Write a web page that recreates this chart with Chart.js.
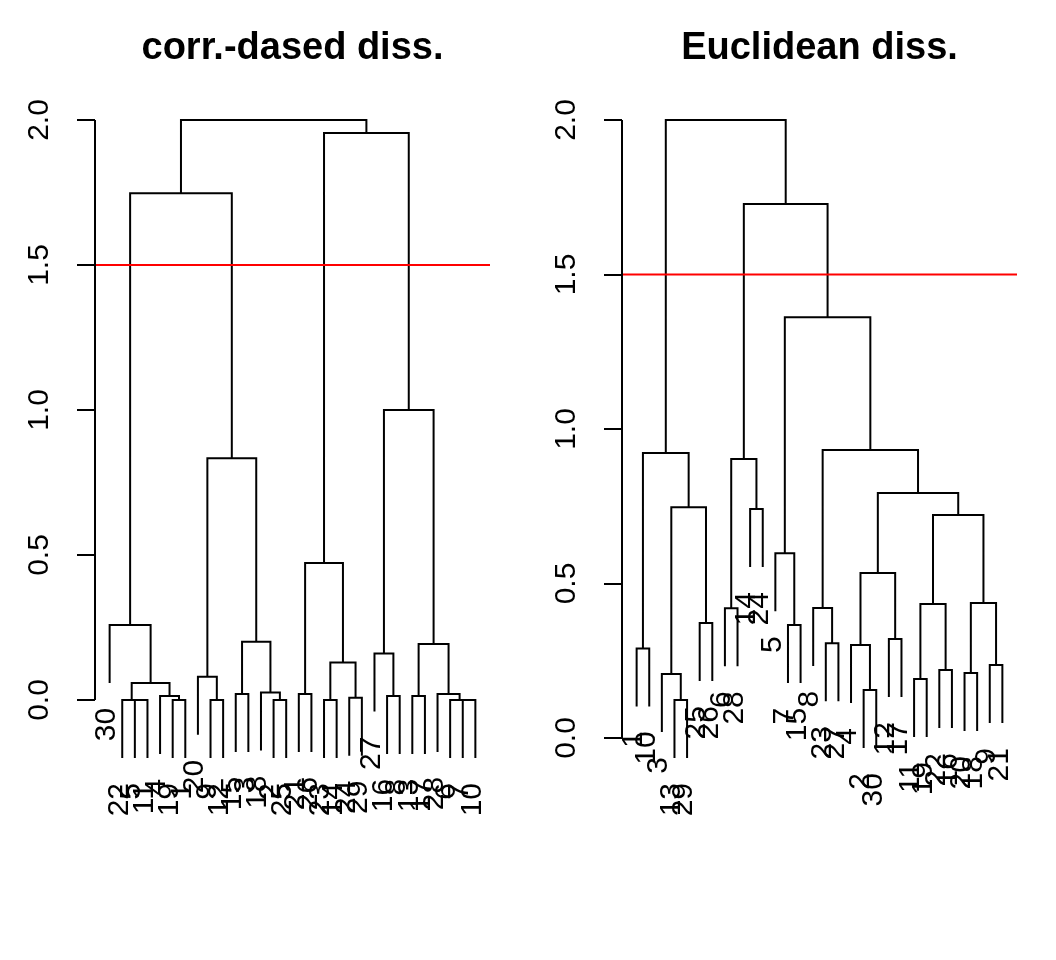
<!DOCTYPE html>
<html><head><meta charset="utf-8">
<script src="https://cdn.jsdelivr.net/npm/chart.js@4"></script>
<style>
html,body{margin:0;padding:0;background:#fff;}
#wrap{display:flex;width:1056px;height:960px;}
.box{position:relative;width:528px;height:960px;}
canvas{display:block;}
</style></head><body>
<div id="wrap"><div class="box"><canvas id="c1" width="528" height="960"></canvas></div><div class="box"><canvas id="c2" width="528" height="960"></canvas></div></div>
<script>
// ---------- data ----------
const leftTitle = "corr.-dased diss.";
const rightTitle = "Euclidean diss.";
const yTicks = [0, 0.5, 1, 1.5, 2];
const cutHeight = 1.5;

// leaf labels in plotted order
const leftLabels = ["30","22","5","11","4","19","1","20","9","12","15","3","18","2","25","21","26","23","14","24","29","27","16","8","13","17","28","6","7","10"];
// merges: negative = leaf position, positive = earlier merge row (1-based)
const leftMerge = [[-3,-4],[-2,1],[-6,-7],[-5,3],[2,4],[-1,5],[-9,-10],[-8,7],[-11,-12],[-14,-15],[-13,10],[9,11],[8,12],[6,13],
  [-16,-17],[-18,-19],[-20,-21],[16,17],[15,18],[-23,-24],[-22,20],[-25,-26],[-29,-30],[-28,23],[-27,24],[22,25],[21,26],[19,27],[14,28]];
const leftHeight = [0,0,0,0.014,0.059,0.259,0,0.08,0.021,0,0.026,0.201,0.834,1.747,
  0.021,0,0.008,0.129,0.472,0.014,0.16,0.014,0,0,0.021,0.193,1.0,1.955,2.0];

const rightLabels = ["1","10","3","13","29","25","26","6","28","14","24","5","7","15","8","23","27","4","2","30","12","17","11","19","22","16","20","18","9","21"];
const rightMerge = [[-1,-2],[-4,-5],[-3,2],[-6,-7],[3,4],[1,5],[-8,-9],[-10,-11],[7,8],[-13,-14],[-12,10],[-16,-17],[-15,12],
  [-19,-20],[-18,14],[-21,-22],[15,16],[-23,-24],[-25,-26],[18,19],[-27,-28],[-29,-30],[21,22],[20,23],[17,24],[13,25],[11,26],[9,27],[6,28]];
const rightHeight = [0.29,0.123,0.207,0.372,0.747,0.922,0.42,0.741,0.903,0.366,0.598,0.307,0.421,
  0.155,0.301,0.32,0.534,0.191,0.22,0.434,0.21,0.236,0.437,0.722,0.793,0.932,1.362,1.728,2.0];

// ---------- helpers ----------
const FONT = '"Liberation Sans", Arial, Helvetica, sans-serif';

function dendroSegments(merge, height) {
  const n = merge.length + 1;
  const hang = 0.1 * (Math.max(...height) - Math.min(...height));
  const nodeX = [], nodeH = [];
  const leafBottom = new Array(n + 1);
  const pts = [];
  merge.forEach((m, k) => {
    const h = height[k];
    const ends = m.map(c => {
      if (c < 0) { leafBottom[-c] = h - hang; return {x: -c, y: h - hang}; }
      return {x: nodeX[c - 1], y: nodeH[c - 1]};
    });
    nodeX[k] = (ends[0].x + ends[1].x) / 2; nodeH[k] = h;
    pts.push({x: ends[0].x, y: ends[0].y}, {x: ends[0].x, y: h}, {x: ends[1].x, y: h},
             {x: ends[1].x, y: ends[1].y}, {x: ends[1].x, y: null});
  });
  return {pts, leafBottom};
}

const dendroPlugin = {
  id: 'dendro',
  afterDraw(chart, args, opts) {
    const {ctx, scales: {x, y}, chartArea} = chart;
    ctx.save();
    ctx.strokeStyle = '#000'; ctx.lineWidth = 2;
    ctx.beginPath();
    ctx.moveTo(chartArea.left, y.getPixelForValue(yTicks[0]));
    ctx.lineTo(chartArea.left, y.getPixelForValue(yTicks[yTicks.length - 1]));
    ctx.stroke();
    ctx.font = '30px ' + FONT; ctx.fillStyle = '#000';
    ctx.textAlign = 'right'; ctx.textBaseline = 'middle';
    opts.labels.forEach((lab, i) => {
      const px = x.getPixelForValue(i + 1) - 3;
      const py = y.getPixelForValue(opts.leafBottom[i + 1]) + 25;
      ctx.save(); ctx.translate(px, py); ctx.rotate(-Math.PI / 2); ctx.fillText(lab, 0, 0); ctx.restore();
    });
    ctx.restore();
  }
};

function makeChart(id, title, labels, merge, height, axisLeft, padRight, yMin, yMax) {
  const {pts, leafBottom} = dendroSegments(merge, height);
  const n = labels.length;
  const xMin = 1 - 0.04 * (n - 1), xMax = n + 0.04 * (n - 1);
  return new Chart(document.getElementById(id), {
    type: 'line',
    data: { datasets: [
      {data: [{x: xMin, y: cutHeight}, {x: xMax, y: cutHeight}], borderColor: '#ff0000', borderWidth: 2,
       pointRadius: 0, order: 0},
      {data: pts, borderColor: '#000', borderWidth: 2, pointRadius: 0, spanGaps: false, tension: 0,
       fill: false, order: 1}
    ]},
    options: {
      responsive: false, animation: false, devicePixelRatio: 1,
      layout: {padding: {left: 0, right: padRight, top: 0, bottom: 160}},
      scales: {
        x: {type: 'linear', min: xMin, max: xMax, display: false},
        y: {type: 'linear', min: yMin, max: yMax,
            afterFit: s => { s.width = axisLeft; },
            afterBuildTicks: s => { s.ticks = yTicks.map(v => ({value: v})); },
            grid: {drawOnChartArea: false, drawTicks: true, tickLength: 18, color: '#000', lineWidth: 2},
            border: {display: false},
            ticks: {minRotation: 90, maxRotation: 90, crossAlign: 'center', padding: 16, color: '#000',
                    font: {family: FONT, size: 30}, callback: v => Number(v).toFixed(1)}}
      },
      plugins: {
        legend: {display: false}, tooltip: {enabled: false},
        title: {display: true, text: title, fullSize: false, color: '#000',
                font: {family: FONT, size: 38, weight: 'bold', lineHeight: 1.2},
                padding: {top: 26.2, bottom: 24.2}},
        dendro: {labels, leafBottom}
      }
    },
    plugins: [dendroPlugin]
  });
}

makeChart('c1', leftTitle, leftLabels, leftMerge, leftHeight, 95, 38, -100 / 290, 2 + 24 / 290);
makeChart('c2', rightTitle, rightLabels, rightMerge, rightHeight, 94, 39, -62 / 309, 2 + 24 / 309);
</script>
</body></html>
